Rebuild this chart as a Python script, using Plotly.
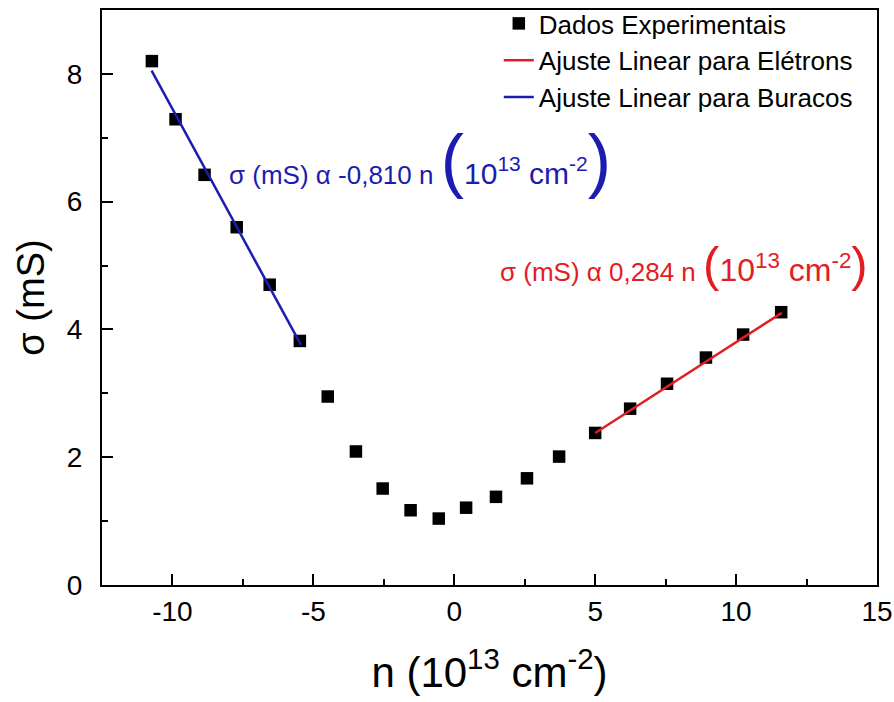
import plotly.graph_objects as go

# Data
n_data = [-10.73, -9.89, -8.86, -7.72, -6.55, -5.48, -4.49, -3.49, -2.54, -1.55,
          -0.55, 0.42, 1.48, 2.58, 3.72, 5.00, 6.24, 7.55, 8.93, 10.25, 11.60]
sigma_data = [8.20, 7.29, 6.42, 5.60, 4.70, 3.82, 2.95, 2.09, 1.51, 1.17,
              1.04, 1.21, 1.38, 1.67, 2.01, 2.38, 2.76, 3.15, 3.56, 3.92, 4.27]

# Linear fit endpoints
fit_electrons_n = [5.00, 11.62]
fit_electrons_sigma = [2.38, 4.26]
fit_holes_n = [-10.74, -5.44]
fit_holes_sigma = [8.05, 3.76]

x_ticks = [-10, -5, 0, 5, 10, 15]
y_ticks = [0, 2, 4, 6, 8]

FONT = "Liberation Sans, Arial, sans-serif"
BLUE = "#1c1cb0"
RED = "#e01e24"

fig = go.Figure()
fig.add_trace(go.Scatter(
    x=n_data, y=sigma_data, mode="markers", name="Dados Experimentais",
    marker=dict(symbol="square", size=12.5, color="black")))
fig.add_trace(go.Scatter(
    x=fit_electrons_n, y=fit_electrons_sigma, mode="lines",
    name="Ajuste Linear para Elétrons", line=dict(color=RED, width=2.5)))
fig.add_trace(go.Scatter(
    x=fit_holes_n, y=fit_holes_sigma, mode="lines",
    name="Ajuste Linear para Buracos", line=dict(color=BLUE, width=2.5)))

def eq(coef, paren, inner):
    return ("σ (mS) α " + coef + " n "
            f"<span style='font-size:{paren}px'>(</span>"
            f"<span style='font-size:{inner}px'>10<sup>13</sup> cm<sup>-2</sup></span>"
            f"<span style='font-size:{paren}px'>)</span>")

fig.add_annotation(x=-8.07, y=6.65, xref="x", yref="y", xanchor="left", yanchor="middle",
                   text=eq("-0,810", 70, 30), showarrow=False,
                   font=dict(family=FONT, size=26, color=BLUE))
fig.add_annotation(x=1.55, y=5.02, xref="x", yref="y", xanchor="left", yanchor="middle",
                   text=eq("0,284", 49, 32), showarrow=False,
                   font=dict(family=FONT, size=26, color=RED))

axis_common = dict(showline=True, linecolor="black", linewidth=2, mirror=True,
                   ticks="inside", ticklen=11, tickwidth=2, tickcolor="black",
                   showgrid=False, zeroline=False, automargin=False,
                   tickfont=dict(family=FONT, size=28, color="black"))

fig.update_xaxes(range=[-12.5, 15], tickvals=x_ticks, ticktext=[str(v) for v in x_ticks],
                 minor=dict(ticks="inside", ticklen=6, tickwidth=2, tickcolor="black", dtick=2.5,
                            tick0=0),
                 title=dict(text="n (10<sup>13</sup> cm<sup>-2</sup>)",
                            font=dict(family=FONT, size=42, color="black"), standoff=32),
                 ticklabelstandoff=0, **axis_common)
fig.update_yaxes(range=[0, 9], tickvals=y_ticks, ticktext=[str(v) for v in y_ticks],
                 domain=[0, 575 / 585],
                 minor=dict(ticks="inside", ticklen=6, tickwidth=2, tickcolor="black", dtick=1,
                            tick0=0),
                 title=dict(text="σ (mS)", font=dict(family=FONT, size=38, color="black"),
                            standoff=11),
                 ticklabelstandoff=12, **axis_common)

fig.update_layout(
    width=894, height=702,
    margin=dict(l=102, r=17, t=0, b=117),
    paper_bgcolor="white", plot_bgcolor="white",
    font=dict(family=FONT, color="black"),
    legend=dict(x=0.512, y=1.0, xanchor="left", yanchor="top",
                font=dict(family=FONT, size=26, color="black"),
                bgcolor="rgba(0,0,0,0)", borderwidth=0, itemwidth=30),
    showlegend=True,
)

fig.write_html("out.html", config={"displayModeBar": False},
               post_script="document.body.style.margin='0px';")
